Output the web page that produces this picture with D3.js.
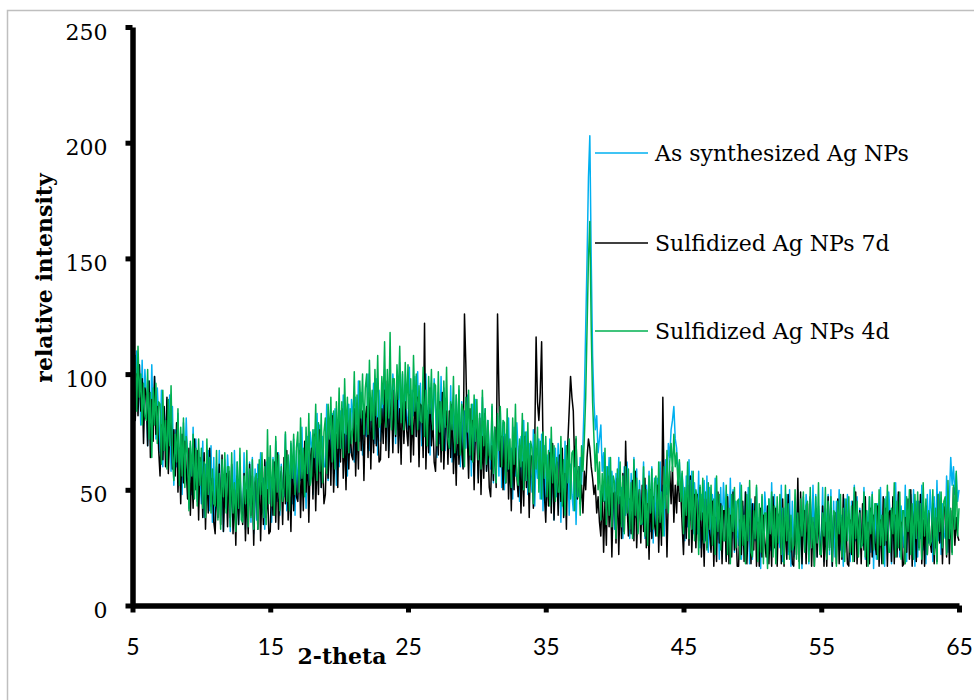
<!DOCTYPE html>
<html>
<head>
<meta charset="utf-8">
<script src="https://cdn.jsdelivr.net/npm/d3@7"></script>
<style>
  body { margin: 0; background: #fff; }
  svg { display: block; }
</style>
</head>
<body>
<div id="chart"></div>
<script>
// 2-theta runs from 5 to 65 in steps of 0.1 (601 points per pattern)
const thetaStart = 5;
const thetaStep = 0.1;

const xTicks = [5, 15, 25, 35, 45, 55, 65];
const yTicks = [0, 50, 100, 150, 200, 250];

const seriesNames = ["As synthesized Ag NPs", "Sulfidized Ag NPs 7d", "Sulfidized Ag NPs 4d"];

// As synthesized Ag NPs (one row per degree)
const asSynth = [
  96, 116, 92, 110, 86, 104, 78, 106, 82, 102,
  90, 69, 97, 75, 104, 78, 99, 72, 94, 81,
  66, 93, 60, 83, 72, 89, 63, 91, 58, 86,
  52, 76, 60, 83, 55, 70, 48, 79, 58, 81,
  63, 42, 70, 48, 77, 51, 72, 45, 67, 54,
  44, 71, 38, 61, 50, 67, 41, 69, 36, 64,
  36, 60, 44, 67, 39, 54, 32, 63, 42, 65,
  53, 32, 60, 38, 67, 41, 62, 35, 57, 44,
  39, 66, 33, 56, 45, 62, 36, 64, 31, 59,
  37, 61, 45, 66, 40, 55, 33, 62, 43, 64,
  57, 36, 64, 42, 71, 45, 66, 39, 61, 48,
  47, 74, 41, 64, 53, 70, 44, 72, 39, 67,
  46, 70, 54, 77, 49, 64, 42, 73, 52, 75,
  69, 48, 76, 54, 83, 57, 78, 51, 73, 60,
  60, 87, 54, 77, 66, 83, 57, 85, 52, 80,
  60, 84, 68, 91, 63, 78, 56, 87, 66, 89,
  83, 62, 90, 68, 97, 71, 92, 65, 87, 74,
  73, 100, 67, 90, 79, 96, 70, 98, 65, 93,
  71, 95, 79, 102, 74, 89, 67, 98, 77, 100,
  91, 70, 98, 76, 105, 79, 100, 73, 95, 82,
  76, 103, 70, 93, 82, 99, 73, 101, 68, 96,
  69, 93, 77, 100, 72, 87, 65, 96, 75, 98,
  85, 64, 92, 70, 99, 73, 94, 67, 89, 76,
  68, 95, 62, 85, 74, 91, 65, 93, 60, 88,
  60, 84, 68, 91, 63, 78, 56, 87, 66, 89,
  76, 55, 83, 61, 90, 64, 85, 58, 80, 67,
  59, 86, 53, 76, 65, 82, 56, 84, 51, 79,
  50, 74, 58, 81, 53, 68, 46, 77, 56, 79,
  66, 45, 73, 51, 80, 54, 75, 48, 70, 57,
  49, 76, 43, 66, 55, 72, 46, 74, 41, 69,
  41, 65, 49, 72, 44, 59, 37, 68, 47, 70,
  57, 36, 64, 42, 71, 45, 66, 39, 61, 48,
  41, 68, 35, 58, 47, 64, 52, 70, 90, 120,
  150, 185, 203, 150, 108, 88, 76, 82, 66, 72,
  78, 58, 66, 44, 60, 50, 64, 42, 58, 48,
  33, 57, 41, 64, 36, 51, 29, 60, 39, 62,
  50, 29, 57, 35, 64, 38, 59, 32, 54, 41,
  35, 62, 29, 52, 41, 58, 32, 60, 27, 55,
  31, 55, 39, 62, 36, 52, 30, 63, 48, 70,
  64, 76, 80, 86, 72, 68, 56, 62, 48, 57,
  49, 28, 56, 34, 63, 37, 58, 31, 53, 40,
  31, 58, 25, 48, 37, 54, 28, 56, 23, 51,
  24, 48, 32, 55, 27, 42, 20, 51, 30, 53,
  41, 20, 48, 26, 55, 29, 50, 23, 45, 32,
  26, 53, 20, 43, 32, 49, 23, 51, 18, 46,
  20, 44, 28, 51, 23, 38, 16, 47, 26, 49,
  39, 18, 46, 24, 53, 27, 48, 21, 43, 30,
  25, 52, 19, 42, 31, 48, 22, 50, 17, 45,
  21, 44, 28, 50, 23, 38, 16, 47, 26, 48,
  39, 18, 46, 24, 52, 27, 48, 21, 43, 30,
  25, 51, 19, 42, 31, 48, 22, 50, 17, 45,
  21, 45, 29, 50, 24, 39, 17, 46, 27, 48,
  38, 19, 45, 25, 52, 28, 47, 22, 42, 31,
  26, 51, 20, 41, 32, 47, 23, 49, 16, 44,
  20, 44, 28, 51, 23, 38, 17, 47, 26, 49,
  39, 18, 46, 24, 53, 27, 48, 21, 43, 30,
  25, 52, 19, 42, 31, 48, 22, 50, 17, 45,
  21, 45, 29, 52, 24, 39, 18, 48, 27, 50,
  40, 19, 47, 25, 54, 28, 49, 22, 44, 31,
  29, 56, 23, 46, 64, 52, 60, 48, 57, 45,
  50
];

// Sulfidized Ag NPs 7d
const sulf7d = [
  122, 104, 80, 100, 82, 104, 84, 98, 70, 94,
  91, 69, 97, 64, 89, 71, 99, 74, 86, 67,
  56, 78, 63, 86, 60, 90, 57, 75, 82, 59,
  76, 56, 79, 49, 68, 44, 74, 53, 71, 59,
  46, 68, 39, 61, 42, 72, 50, 67, 37, 64,
  60, 38, 66, 33, 58, 40, 68, 43, 55, 36,
  31, 53, 38, 61, 35, 65, 32, 50, 57, 34,
  58, 38, 61, 31, 50, 26, 56, 35, 53, 41,
  35, 57, 28, 50, 31, 61, 39, 56, 26, 53,
  55, 33, 61, 28, 53, 35, 63, 38, 50, 31,
  32, 54, 39, 62, 36, 66, 33, 51, 58, 35,
  64, 44, 67, 37, 56, 32, 62, 41, 59, 47,
  45, 67, 38, 60, 41, 71, 49, 66, 36, 63,
  68, 46, 74, 41, 66, 48, 76, 51, 63, 44,
  48, 70, 55, 78, 52, 82, 49, 67, 74, 51,
  82, 62, 85, 55, 74, 50, 80, 59, 77, 65,
  63, 85, 56, 78, 59, 89, 67, 84, 54, 81,
  86, 64, 92, 59, 84, 66, 94, 69, 81, 62,
  63, 85, 70, 93, 67, 97, 64, 82, 89, 66,
  93, 73, 96, 66, 85, 61, 91, 70, 88, 76,
  69, 91, 62, 84, 65, 95, 73, 90, 60, 87,
  86, 64, 122, 59, 84, 66, 94, 69, 81, 62,
  58, 80, 65, 88, 62, 92, 59, 77, 84, 61,
  84, 64, 87, 57, 76, 52, 82, 61, 79, 67,
  59, 126, 104, 74, 55, 85, 63, 80, 50, 77,
  75, 53, 81, 48, 73, 55, 83, 58, 70, 51,
  47, 69, 54, 77, 51, 126, 92, 60, 73, 50,
  73, 53, 76, 46, 65, 41, 71, 50, 68, 56,
  47, 69, 40, 62, 43, 73, 51, 68, 38, 65,
  64, 42, 70, 116, 88, 80, 92, 114, 70, 48,
  36, 58, 43, 66, 40, 70, 37, 55, 62, 39,
  65, 45, 68, 38, 57, 33, 70, 84, 99, 90,
  84, 60, 72, 46, 60, 44, 52, 40, 58, 50,
  64, 72, 68, 60, 55, 48, 52, 40, 47, 36,
  30, 52, 23, 45, 26, 56, 34, 51, 21, 48,
  49, 27, 55, 22, 47, 29, 57, 32, 71, 44,
  30, 46, 31, 54, 28, 58, 25, 43, 50, 27,
  52, 32, 55, 25, 44, 20, 50, 29, 47, 35,
  30, 52, 23, 45, 26, 90, 48, 51, 21, 48,
  58, 44, 60, 36, 52, 40, 58, 45, 49, 35,
  22, 44, 29, 52, 26, 56, 23, 41, 48, 25,
  48, 28, 51, 21, 40, 17, 46, 25, 43, 31,
  23, 45, 17, 38, 19, 49, 27, 44, 18, 41,
  41, 19, 47, 18, 39, 21, 49, 24, 36, 17,
  17, 37, 22, 45, 19, 49, 18, 34, 41, 18,
  44, 24, 47, 17, 36, 17, 42, 21, 39, 27,
  21, 43, 18, 36, 17, 47, 25, 42, 17, 39,
  40, 18, 46, 17, 38, 20, 48, 23, 35, 18,
  17, 37, 22, 55, 19, 49, 18, 34, 41, 18,
  44, 24, 47, 17, 36, 17, 42, 21, 39, 27,
  21, 43, 17, 36, 17, 47, 25, 42, 17, 39,
  40, 18, 46, 18, 38, 20, 48, 23, 35, 18,
  17, 37, 22, 45, 19, 49, 18, 34, 41, 18,
  44, 24, 47, 17, 36, 18, 42, 21, 39, 27,
  22, 43, 17, 37, 18, 47, 26, 42, 17, 40,
  41, 19, 47, 18, 39, 21, 49, 24, 36, 17,
  18, 38, 23, 46, 20, 50, 17, 35, 42, 19,
  45, 25, 48, 18, 37, 17, 43, 22, 40, 28,
  23, 44, 18, 38, 19, 48, 27, 43, 18, 41,
  43, 21, 49, 18, 41, 23, 51, 26, 38, 30,
  28
];

// Sulfidized Ag NPs 4d
const sulf4d = [
  116, 94, 108, 84, 112, 90, 100, 78, 96, 82,
  80, 102, 72, 92, 64, 94, 78, 96, 70, 88,
  87, 61, 93, 67, 80, 59, 89, 69, 95, 64,
  54, 74, 62, 85, 52, 77, 56, 81, 51, 73,
  65, 41, 71, 56, 74, 46, 68, 43, 72, 52,
  68, 42, 62, 38, 72, 48, 64, 40, 59, 44,
  43, 67, 37, 57, 33, 63, 47, 66, 40, 60,
  60, 34, 66, 40, 53, 32, 62, 42, 68, 37,
  36, 56, 44, 67, 34, 59, 38, 63, 33, 55,
  57, 33, 63, 48, 66, 38, 60, 35, 76, 44,
  69, 43, 63, 39, 73, 49, 65, 41, 60, 45,
  51, 75, 45, 65, 41, 71, 55, 74, 48, 68,
  75, 49, 81, 55, 68, 47, 77, 57, 83, 52,
  56, 76, 64, 87, 54, 79, 58, 83, 53, 75,
  81, 57, 87, 72, 90, 62, 84, 59, 88, 68,
  94, 68, 88, 64, 98, 74, 90, 66, 85, 70,
  77, 101, 71, 91, 67, 97, 81, 100, 74, 94,
  100, 74, 106, 80, 93, 72, 102, 82, 108, 77,
  79, 99, 87, 114, 77, 102, 81, 118, 76, 98,
  98, 74, 104, 89, 112, 79, 101, 76, 105, 85,
  104, 78, 98, 74, 108, 84, 100, 76, 95, 80,
  79, 103, 73, 93, 69, 99, 83, 102, 76, 96,
  95, 69, 101, 75, 88, 67, 97, 77, 103, 72,
  68, 88, 76, 99, 66, 91, 70, 95, 65, 87,
  84, 60, 90, 75, 93, 65, 87, 62, 91, 71,
  89, 63, 83, 59, 93, 69, 85, 61, 80, 65,
  63, 87, 57, 77, 53, 83, 67, 86, 60, 80,
  79, 53, 85, 59, 72, 51, 81, 61, 87, 56,
  52, 72, 60, 83, 50, 75, 54, 79, 49, 71,
  68, 44, 74, 59, 77, 49, 71, 46, 75, 55,
  73, 47, 67, 43, 77, 53, 69, 45, 64, 49,
  49, 73, 43, 63, 39, 69, 53, 72, 46, 66,
  67, 41, 73, 47, 60, 39, 69, 58, 72, 90,
  120, 150, 166, 120, 88, 72, 58, 70, 50, 62,
  37, 57, 45, 68, 35, 60, 39, 64, 34, 56,
  53, 29, 59, 44, 62, 34, 56, 31, 60, 40,
  59, 33, 53, 29, 63, 39, 55, 31, 50, 35,
  36, 60, 30, 50, 26, 56, 40, 59, 33, 53,
  56, 30, 62, 36, 49, 30, 60, 42, 67, 40,
  62, 70, 58, 74, 60, 66, 52, 63, 45, 58,
  31, 51, 39, 62, 29, 54, 33, 58, 28, 50,
  46, 22, 52, 37, 55, 27, 49, 24, 53, 33,
  52, 26, 46, 22, 56, 32, 48, 24, 43, 28,
  28, 52, 22, 42, 18, 48, 32, 51, 25, 45,
  46, 20, 52, 26, 39, 18, 48, 28, 54, 23,
  21, 41, 29, 52, 19, 44, 23, 48, 18, 40,
  40, 16, 46, 31, 49, 21, 43, 18, 47, 27,
  48, 22, 42, 18, 52, 28, 44, 20, 39, 24,
  26, 50, 20, 40, 16, 46, 30, 49, 23, 43,
  45, 19, 51, 25, 38, 17, 47, 27, 53, 22,
  22, 40, 30, 51, 20, 45, 24, 47, 19, 41,
  40, 17, 45, 31, 48, 21, 42, 19, 46, 28,
  47, 23, 43, 19, 51, 29, 45, 21, 40, 25,
  27, 49, 21, 41, 17, 47, 31, 48, 24, 44,
  44, 20, 50, 26, 39, 18, 46, 28, 52, 23,
  23, 42, 31, 53, 21, 45, 25, 49, 20, 41,
  41, 18, 47, 32, 50, 22, 44, 20, 48, 29,
  49, 24, 44, 20, 53, 30, 46, 22, 41, 26,
  28, 50, 22, 42, 18, 48, 32, 49, 25, 45,
  47, 22, 54, 29, 42, 22, 52, 33, 58, 30,
  42
];

const colors = ["#00b0f0", "#000000", "#00b050"];

const width = 974;
const height = 700;

const svg = d3.select("#chart")
    .append("svg")
    .attr("width", width)
    .attr("height", height);

// Chart frame (only top and left edges fall inside the picture)
svg.append("rect")
    .attr("x", 7.5)
    .attr("y", 10.5)
    .attr("width", 1000)
    .attr("height", 720)
    .attr("fill", "none")
    .attr("stroke", "#bfbfbf")
    .attr("stroke-width", 1.5);

const x = d3.scaleLinear().domain([5, 65]).range([132.5, 959]);
const y = d3.scaleLinear().domain([0, 250]).range([605.5, 27]);

const line = d3.line()
    .x((d, i) => x(thetaStart + i * thetaStep))
    .y(d => y(d));

// Draw patterns: blue under, black, green on top
[asSynth, sulf7d, sulf4d].forEach((values, k) => {
    svg.append("path")
        .datum(values)
        .attr("fill", "none")
        .attr("stroke", colors[k])
        .attr("stroke-width", 1.5)
        .attr("stroke-linejoin", "round")
        .attr("d", line);
});

// Y axis
const yAxis = svg.append("g")
    .attr("transform", `translate(${x(5)},0)`)
    .call(d3.axisLeft(y).tickValues(yTicks).tickSizeInner(7).tickSizeOuter(0).tickPadding(18));

// X axis
const xAxis = svg.append("g")
    .attr("transform", `translate(0,${y(0)})`)
    .call(d3.axisBottom(x).tickValues(xTicks).tickFormat(d3.format("d")).tickSizeInner(7).tickSizeOuter(0).tickPadding(26));

[yAxis, xAxis].forEach(g => {
    g.select(".domain").attr("stroke", "#000").attr("stroke-width", 5.5);
    g.selectAll(".tick line").attr("stroke", "#000").attr("stroke-width", 5);
});

yAxis.selectAll("text")
    .attr("font-family", "'DejaVu Serif', serif")
    .attr("font-size", 22)
    .attr("fill", "#000")
    .attr("dy", "0.55em");

xAxis.selectAll("text")
    .attr("font-family", "Lato, 'Open Sans', sans-serif")
    .attr("font-size", 23)
    .attr("fill", "#000");

// Axis titles
svg.append("text")
    .attr("x", 342)
    .attr("y", 664)
    .attr("text-anchor", "middle")
    .attr("font-family", "'DejaVu Serif', serif")
    .attr("font-weight", "bold")
    .attr("font-size", 22)
    .text("2-theta");

svg.append("text")
    .attr("transform", "translate(52,278) rotate(-90)")
    .attr("text-anchor", "middle")
    .attr("font-family", "'DejaVu Serif', serif")
    .attr("font-weight", "bold")
    .attr("font-size", 22)
    .text("relative intensity");

// Labels with leader lines
const labelY = [153, 243, 331];
const labels = svg.append("g");
seriesNames.forEach((name, k) => {
    labels.append("line")
        .attr("x1", 595).attr("x2", 648)
        .attr("y1", labelY[k]).attr("y2", labelY[k])
        .attr("stroke", colors[k])
        .attr("stroke-width", 1.3);
    labels.append("text")
        .attr("x", 655)
        .attr("y", labelY[k] + 8)
        .attr("font-family", "'DejaVu Serif', serif")
        .attr("font-size", 22)
        .attr("fill", "#000")
        .text(name);
});
</script>
</body>
</html>
